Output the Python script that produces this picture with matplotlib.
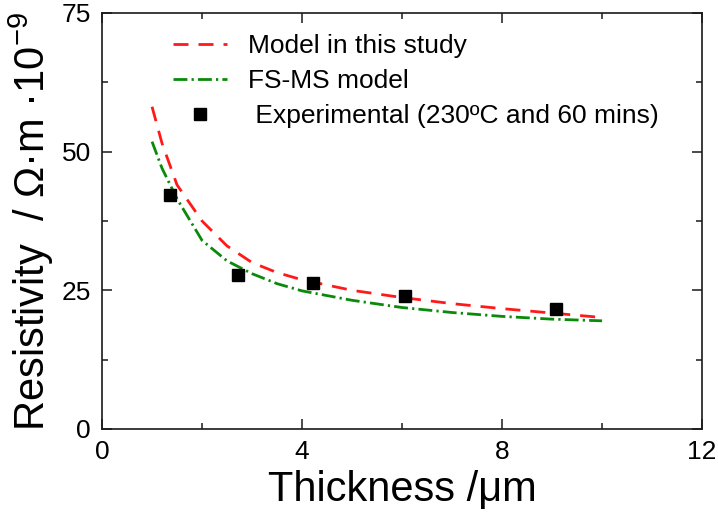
import matplotlib
matplotlib.use("Agg")
import matplotlib.pyplot as plt
from matplotlib.ticker import MultipleLocator

plt.rcParams["font.family"] = ["Liberation Sans", "DejaVu Sans"]
plt.rcParams["mathtext.fontset"] = "custom"
plt.rcParams["mathtext.rm"] = "Liberation Sans"

# curve samples
model_x = [1.0, 1.2, 1.5, 2.0, 2.5, 3.0, 3.5, 4.0, 5.0, 6.0, 7.0, 8.0, 9.0, 10.0]
model_y = [58.1, 51.5, 44.0, 37.5, 33.0, 30.0, 28.2, 26.9, 25.0, 23.7, 22.6, 21.7, 20.9, 20.1]
fsms_x = [1.0, 1.2, 1.5, 2.0, 2.5, 3.0, 3.5, 4.0, 5.0, 6.0, 7.0, 8.0, 9.0, 10.0]
fsms_y = [51.8, 47.0, 41.5, 34.0, 30.3, 28.0, 26.2, 24.9, 23.2, 21.9, 21.0, 20.3, 19.8, 19.5]
exp_x = [1.36, 2.71, 4.21, 6.05, 9.07]
exp_y = [42.1, 27.8, 26.3, 24.0, 21.7]

fig = plt.figure(figsize=(7.18, 5.21), dpi=100)
ax = fig.add_axes([0.1421, 0.1766, 0.8357, 0.7985])

ax.plot(model_x, model_y, color="#ff1a1a", lw=2, dashes=(5.4, 3.6),
        label="Model in this study")
ax.plot(fsms_x, fsms_y, color="#0a8a0a", lw=2, dashes=(5, 1.5, 0.8, 1.5),
        label="FS-MS model")
ax.plot(exp_x, exp_y, ls="none", marker="s", ms=9, color="black",
        label=" Experimental (230ºC and 60 mins)")

ax.set_xlim(0, 12)
ax.set_ylim(0, 75)
ax.xaxis.set_major_locator(MultipleLocator(4))
ax.xaxis.set_minor_locator(MultipleLocator(2))
ax.yaxis.set_major_locator(MultipleLocator(25))
ax.yaxis.set_minor_locator(MultipleLocator(12.5))
ax.tick_params(which="both", direction="in", top=True, right=True,
               width=1.1, color="#1a1a1a")
ax.tick_params(which="major", length=7, labelsize=19, pad=8)
ax.tick_params(which="minor", length=4)
for sp in ax.spines.values():
    sp.set_linewidth(1.2)
    sp.set_color("#1a1a1a")

ax.set_xlabel("Thickness /\u03bcm", fontsize=30, labelpad=4)
ax.set_ylabel("Resistivity  / \u03a9\u00b7m \u00b710$^{-9}$", fontsize=30, labelpad=4)

ax.legend(loc="upper left", bbox_to_anchor=(0.118, 0.95), frameon=False,
          fontsize=19, handlelength=2.05, handletextpad=0.8, labelspacing=0.42,
          borderpad=0, borderaxespad=0)

fig.savefig("out.png", dpi=100)
